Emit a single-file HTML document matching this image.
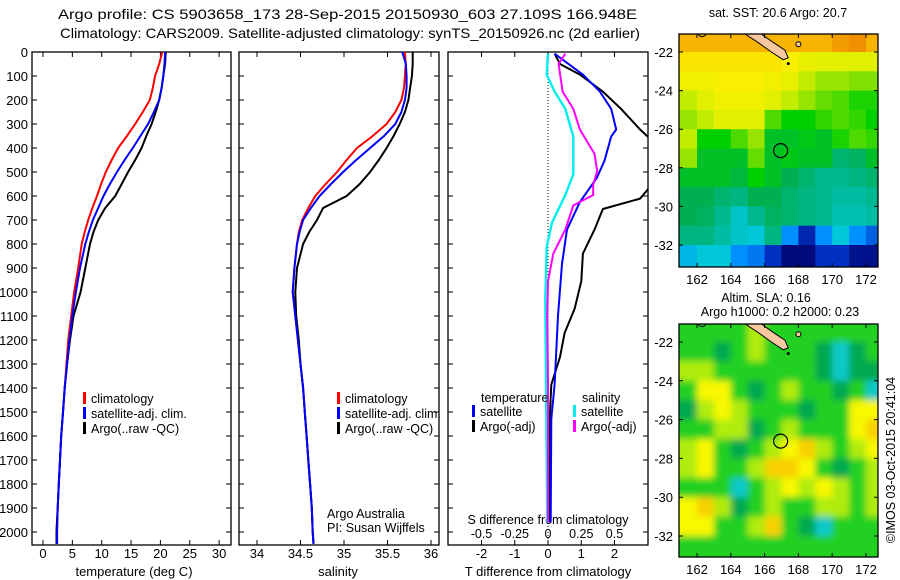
<!DOCTYPE html>
<html><head><meta charset="utf-8"><style>
html,body{margin:0;padding:0;background:#fff;}
svg{display:block;font-family:"Liberation Sans",sans-serif;}
</style></head><body>
<svg id="fig" width="900" height="580" xmlns="http://www.w3.org/2000/svg">
<defs>
<clipPath id="c1"><rect x="32" y="52" width="199" height="493"/></clipPath>
<clipPath id="c2"><rect x="239" y="52" width="200" height="493"/></clipPath>
<clipPath id="c3"><rect x="448" y="52" width="200" height="493"/></clipPath>
<clipPath id="m1"><rect x="679" y="34" width="199" height="233"/></clipPath>
<clipPath id="m2"><rect x="679" y="324" width="199" height="233"/></clipPath>
<filter id="blur" x="-5%" y="-5%" width="110%" height="110%"><feGaussianBlur stdDeviation="3.5"/></filter>
</defs>
<g font-size="14" fill="#000">
<text x="58" y="19" textLength="579" lengthAdjust="spacingAndGlyphs">Argo profile: CS 5903658_173 28-Sep-2015 20150930_603 27.109S 166.948E</text>
<text x="60" y="38" textLength="580" lengthAdjust="spacingAndGlyphs">Climatology: CARS2009. Satellite-adjusted climatology: synTS_20150926.nc (2d earlier)</text>
</g>
<g id="layer"></g>
</svg>
<script>
// ---- profile data ----
const depths = [0,50,100,150,200,250,300,350,400,450,500,550,600,650,700,750,800,900,1000,1100,1200,1300,1400,1500,1600,1700,1800,1900,2000,2050];
const tempClim = [20.3,19.8,19.1,18.7,18.2,17.0,15.7,14.3,12.8,11.7,10.7,9.9,9.2,8.4,7.7,7.1,6.6,6.0,5.3,4.8,4.3,4.0,3.7,3.4,3.1,2.9,2.7,2.5,2.3,2.3];
const tempSat = [20.8,20.7,20.5,20.2,19.8,18.9,17.9,16.6,15.3,13.9,12.6,11.4,10.3,9.4,8.5,7.8,7.2,6.3,5.6,5.0,4.5,4.1,3.7,3.4,3.1,2.9,2.7,2.5,2.4,2.4];
const tempArgo = [20.9,20.8,20.5,20.2,19.8,19.2,18.5,17.6,16.8,15.7,14.5,13.4,12.3,10.6,9.4,8.6,8.0,7.2,6.4,5.2,4.6,4.1,3.7,3.4,3.1,2.9,2.7,2.5,2.3,2.3];
const salClim = [35.70,35.71,35.70,35.69,35.66,35.59,35.49,35.33,35.15,35.03,34.92,34.79,34.67,34.59,34.52,34.48,34.46,34.43,34.41,34.44,34.47,34.50,34.53,34.55,34.57,34.59,34.61,34.63,34.64,34.65];
const salSat = [35.67,35.71,35.72,35.72,35.70,35.66,35.59,35.46,35.30,35.14,34.99,34.85,34.72,34.62,34.53,34.49,34.46,34.43,34.41,34.44,34.47,34.50,34.53,34.55,34.57,34.59,34.61,34.63,34.64,34.65];
const salArgo = [35.79,35.79,35.78,35.76,35.74,35.70,35.64,35.57,35.49,35.40,35.30,35.18,35.03,34.76,34.69,34.60,34.53,34.46,34.44,34.45,34.48,34.50,34.53,34.55,34.57,34.59,34.61,34.63,34.64,34.65];
// ---- difference data ----
const dTSatDepth = [7,94,165,237,323,352,453,524,625,740,883,1099,1386,1530,1960];
const dTSat = [0.2,1.05,1.56,1.9,2.05,1.9,1.7,1.47,0.96,0.57,0.42,0.3,0.2,0.1,0.08];
const dTArgoDepth = [7,50,94,165,237,323,366,450,540,611,654,740,840,955,1070,1171,1271,1386,1530,1960];
const dTArgo = [0.2,0.36,0.96,1.65,2.2,2.77,3.1,3.3,3.2,2.77,1.65,1.4,1.05,1.0,0.8,0.5,0.36,0.1,0.05,0.06];
const dSSatDepth = [7,94,165,237,352,510,596,711,812,1027,1386,1960];
const dSSat = [0,-0.01,0.05,0.13,0.19,0.19,0.13,0.03,-0.01,-0.02,-0.015,-0.005];
const dSArgoDepth = [7,50,165,237,323,424,496,553,596,639,740,840,955,1099,1386,1960];
const dSArgo = [0.13,0.08,0.11,0.19,0.24,0.35,0.37,0.34,0.34,0.19,0.13,0.04,0.0,-0.005,0,0];
// ---- ticks ----
const depthTicks = [0,100,200,300,400,500,600,700,800,900,1000,1100,1200,1300,1400,1500,1600,1700,1800,1900,2000];
const tempTicks = [0,5,10,15,20,25,30];
const salTicks = [34,34.5,35,35.5,36];
const salTickLabels = ["34","34.5","35","35.5","36"];
const dTTicks = [-2,-1,0,1,2];
const dSTicks = [-0.5,-0.25,0,0.25,0.5];
const dSTickLabels = ["-0.5","-0.25","0","0.25","0.5"];
const lonTicks = [162,164,166,168,170,172];
const latTicks = [-22,-24,-26,-28,-30,-32];
// ---- map data (1 degree cells, rows from -21 southward, cols from 161E) ----
const sstRows = [
[23,23,23,23,23,23,23,23,23,23.2,23.3,23],
[22.6,22.6,22.6,22.6,22.6,22.6,22.5,22.3,22.2,22.2,22.2,22.2],
[22.4,22.4,22.5,22.5,22.5,22.4,22.3,22,21.8,21.8,21.7,21.7],
[22,22.2,22.4,22.4,22.4,22.2,22,21.8,21.6,21.5,21.3,21.3],
[21.8,22,22.2,22.2,22.2,21.5,21.2,21.2,21.4,21.5,21.4,21.2],
[22,21.2,21.2,21.5,21.8,21,21,21.1,21,21.3,21.5,21.4],
[21.8,21,21,21,21.6,21,21.1,21,21,20.6,20.7,21],
[21,21,21,20.9,21.2,21,20.8,20.6,20.4,20.4,20.5,20.6],
[20.8,20.8,20.6,20.5,20.8,20.8,20.6,20.5,20.4,20.3,20.3,20.4],
[20.8,20.7,20.4,20.1,20.4,20.7,20.6,20.5,20.4,20.2,20.2,20.3],
[20.5,20.5,20.3,20.1,20,20.5,19.7,19.2,19.7,20,19.7,19.5],
[19.9,20,20,19.7,19.6,19.3,18.9,18.9,19.3,19.3,19,19],
[19.9,20,20,19.7,19.6,19.3,18.9,18.9,19.3,19.3,19,19]];
const slaRows = [
[2,2,2,2,3,2,2,2,2,2,2,2],
[2,2,1,2,3,2,2,2,1,0,1,2],
[3,3,2,2,2,2,2,2,1,0,1,1],
[2,4,4,2,1,2,3,2,2,1,2,0],
[1,3,4,3,2,2,2,1,2,2,4,4],
[2,2,3,3,1,2,3,2,2,2,4,5],
[3,4,2,1,2,3,4,5,3,2,3,4],
[3,4,2,2,3,5,5,4,2,1,2,3],
[2,2,2,0,2,3,4,3,4,3,2,3],
[4,5,3,1,2,3,2,2,3,3,2,3],
[4,4,2,2,3,5,2,1,0,2,2,2],
[2,2,2,2,2,2,2,2,2,2,2,2],
[2,2,2,2,2,2,2,2,2,2,2,2]];
const argoLon = 166.948, argoLat = -27.109;

const NS="http://www.w3.org/2000/svg";
const L=document.getElementById('layer');
function mk(tag,attrs,parent){const e=document.createElementNS(NS,tag);for(const k in attrs)e.setAttribute(k,attrs[k]);(parent||L).appendChild(e);return e;}
function txt(x,y,s,anchor,size,parent){const t=mk('text',{x:x,y:y,'text-anchor':anchor||'middle','font-size':size||13},parent);t.textContent=s;return t;}

const Y=d=>52+0.24*d;
const xT=t=>43+5.87*t;
const xS=s=>257+87*(s-34);
const xdT=v=>548+33.25*v;
const xdS=v=>548+133*v;

function panel(x0,w,name){
  const r=mk('rect',{x:x0,y:52,width:w,height:493,fill:'none',stroke:'#000','stroke-width':1.3});
  
  
  for(const d of depthTicks){
    const t=mk('path',{d:`M${x0},${Y(d)}h5M${x0+w},${Y(d)}h-5`,stroke:'#000','stroke-width':1});
    
    
  }
}
function line(xs,ds,fx,color,clip,name,w){
  const p=xs.map((v,i)=>(i?'L':'M')+fx(v).toFixed(1)+','+Y(ds[i]).toFixed(1)).join('');
  const e=mk('path',{d:p,fill:'none',stroke:color,'stroke-width':w||2,'clip-path':`url(#${clip})`});
  
  
}
function xticks(vals,labels,fx,x0,w,yLab){
  vals.forEach((v,i)=>{
    const x=fx(v);
    mk('path',{d:`M${x},545v-5M${x},52v5`,stroke:'#000','stroke-width':1});
    const t=txt(x,yLab,labels[i]);
    
    
  });
}
function legendEntry(x,y,color,label,name){
  mk('rect',{x:x,y:y-11,width:3,height:12,fill:color});
  const t=txt(x+8,y,label,'start',12.5);
  
  
}

depthTicks.forEach(d=>{const t=txt(28,Y(d)+5,String(d),'end',13);
  
  });

// panel 1 temperature
panel(32,199,'temperature-panel');
xticks(tempTicks,tempTicks.map(String),xT,32,199,558);
line(tempClim,depths,xT,'#f00','c1','temp-climatology-line');
line(tempArgo,depths,xT,'#000','c1','temp-argo-line');
line(tempSat,depths,xT,'#00f','c1','temp-satellite-line');
let t=txt(134,576,'temperature (deg C)');


legendEntry(83,403,'#f00','climatology','legend-climatology');
legendEntry(83,418,'#00f','satellite-adj. clim.','legend-satellite');
legendEntry(83,433,'#000','Argo(..raw -QC)','legend-argo');

// panel 2 salinity
panel(239,200,'salinity-panel');
xticks(salTicks,salTickLabels,xS,239,200,558);
line(salClim,depths,xS,'#f00','c2','sal-climatology-line');
line(salArgo,depths,xS,'#000','c2','sal-argo-line');
line(salSat,depths,xS,'#00f','c2','sal-satellite-line');
t=txt(338,576,'salinity');


legendEntry(337,403,'#f00','climatology','legend-climatology-2');
legendEntry(337,418,'#00f','satellite-adj. clim.','legend-satellite-2');
legendEntry(337,433,'#000','Argo(..raw -QC)','legend-argo-2');
t=txt(327,518,'Argo Australia','start',12.5);


t=txt(327,532,'PI: Susan Wijffels','start',12.5);



// panel 3 differences
panel(448,200,'difference-panel');
mk('line',{x1:548,y1:52,x2:548,y2:545,stroke:'#000','stroke-width':1,'stroke-dasharray':'1,2'});
xticks(dTTicks,dTTicks.map(String),xdT,448,200,558);
dSTicks.forEach((v,i)=>{const tt=txt(xdS(v),538,dSTickLabels[i],'middle',12.5);
  
  });
t=txt(548,524,'S difference from climatology','middle',12.5);


t=txt(548,576,'T difference from climatology');


line(dTArgo,dTArgoDepth,xdT,'#000','c3','dT-argo-line');
line(dTSat,dTSatDepth,xdT,'#00f','c3','dT-satellite-line');
line(dSSat,dSSatDepth,xdS,'#0ee','c3','dS-satellite-line',2.4);
line(dSArgo,dSArgoDepth,xdS,'#f0f','c3','dS-argo-line');
t=txt(481,402,'temperature','start',12.5);


legendEntry(472,416,'#00f','satellite','legend-t-satellite');
legendEntry(472,431,'#000','Argo(-adj)','legend-t-argo');
t=txt(582,402,'salinity','start',12.5);


legendEntry(573,416,'#0ee','satellite','legend-s-satellite');
legendEntry(573,431,'#f0f','Argo(-adj)','legend-s-argo');

// ---- maps ----
const mx=lon=>697+(lon-162)*16.9;
const sstStops=[[18.8,[0,0,106]],[19.3,[0,48,192]],[19.7,[0,144,255]],[20.0,[0,200,216]],[20.4,[0,184,144]],[20.8,[0,176,80]],[21.2,[0,208,0]],[21.7,[128,224,0]],[22.1,[216,240,0]],[22.5,[248,240,0]],[22.9,[248,192,0]],[23.3,[240,144,0]]];
function sstColor(v){
  if(v<=sstStops[0][0])return `rgb(${sstStops[0][1]})`;
  for(let i=1;i<sstStops.length;i++){if(v<=sstStops[i][0]){const a=sstStops[i-1],b=sstStops[i],f=(v-a[0])/(b[0]-a[0]);
    return 'rgb('+a[1].map((c,k)=>Math.round(c+(b[1][k]-c)*f)).join(',')+')';}}
  return `rgb(${sstStops[sstStops.length-1][1]})`;
}
const slaColors=['#10c8c8','#00a850','#20d020','#b0ec10','#f8f800','#f8d000'];
function drawMap(rows,colorFn,top,latY,clip,name,blur){
  const g=mk('g',{'clip-path':`url(#${clip})`});
  
  
  const inner=mk('g',blur?{filter:'url(#blur)'}:{},g);
  rows.forEach((row,r)=>row.forEach((v,c)=>{
    const x0=mx(161+c)-(c===0?30:0), x1=mx(162+c)+(c===row.length-1?30:0);
    const y0=latY(-21-r)-(r===0?30:0), y1=latY(-22-r)+(r===rows.length-1?30:0);
    const cell=mk('rect',{x:x0,y:y0,width:x1-x0+0.6,height:y1-y0+0.6,fill:colorFn(v)},inner);
    
    
  }));
  const isl=mk('path',{d:`M${mx(165.7)},${latY(-21)} L${mx(166.5)},${latY(-21.5)} L${mx(167.2)},${latY(-21.9)} L${mx(167.4)},${latY(-22.3)} L${mx(167.1)},${latY(-22.4)} L${mx(166.4)},${latY(-22.0)} L${mx(165.6)},${latY(-21.5)} L${mx(164.9)},${latY(-21.1)} L${mx(164.7)},${latY(-20.9)} Z`,fill:'#f8c8a0',stroke:'#000','stroke-width':1},g);
  
  
  mk('circle',{cx:mx(162.3),cy:latY(-21),r:4,fill:'none',stroke:'#000','stroke-width':1},g);
  mk('circle',{cx:mx(168),cy:latY(-21.6),r:2.5,fill:'#f8c8a0',stroke:'#000','stroke-width':1},g);
  mk('circle',{cx:mx(167.4),cy:latY(-22.6),r:1.5,fill:'#000'},g);
  const c=mk('circle',{cx:mx(argoLon),cy:latY(argoLat),r:7,fill:'none',stroke:'#000','stroke-width':1.2},g);
  
  
  const fr=mk('rect',{x:679,y:top,width:199,height:233,fill:'none',stroke:'#000','stroke-width':1.3});
  
  
  lonTicks.forEach(l=>{mk('path',{d:`M${mx(l)},${top+233}v-4M${mx(l)},${top}v4`,stroke:'#000'});
    const tt=txt(mx(l),top+250,String(l),'middle',13);
    
    });
  latTicks.forEach(l=>{mk('path',{d:`M679,${latY(l)}h4M878,${latY(l)}h-4`,stroke:'#000'});
    const tt=txt(673,latY(l)+5,String(l),'end',13);
    
    });
}
drawMap(sstRows,sstColor,34,lat=>52+(-22-lat)*19.3,'m1','sst-map',false);
drawMap(slaRows,v=>slaColors[v],324,lat=>342+(-22-lat)*19.4,'m2','sla-map',true);
t=txt(778,17,'sat. SST: 20.6 Argo: 20.7','middle',12.5);


t=txt(766,302,'Altim. SLA: 0.16','middle',12.5);


t=txt(780,316,'Argo h1000: 0.2 h2000: 0.23','middle',12.5);


t=txt(0,0,'©IMOS 03-Oct-2015 20:41:04','middle',12.5);
t.setAttribute('transform','translate(895,460) rotate(-90)');


</script>
</body></html>
